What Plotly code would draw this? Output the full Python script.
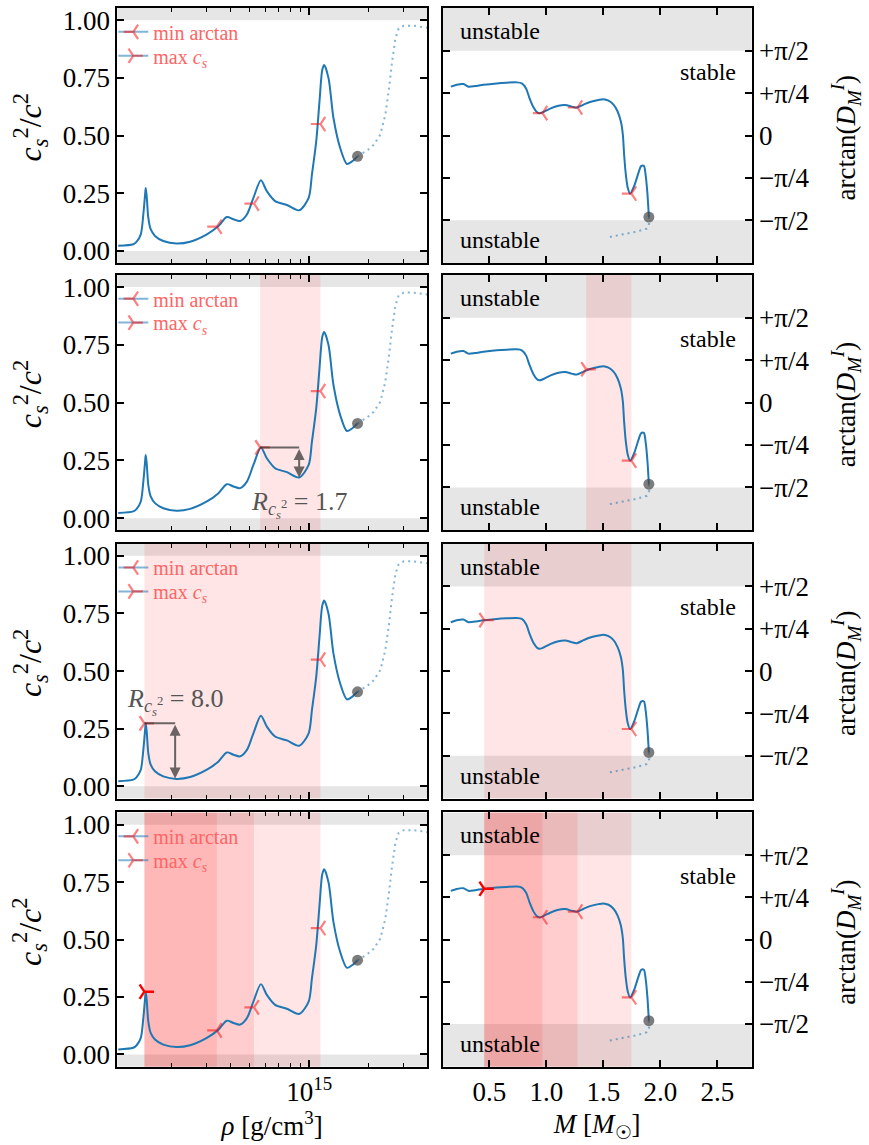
import numpy as np
import plotly.graph_objects as go

W, H = 869, 1145
FONT = "Liberation Serif, DejaVu Serif, serif"

# ---------------- data ----------------
# left panels: squared sound speed vs density
rho_solid = [1.076e14, 1.282e14, 1.334e14, 1.400e14, 1.442e14, 1.472e14, 1.483e14, 1.500e14,
             1.528e14, 1.571e14, 1.652e14, 1.820e14, 2.128e14, 2.489e14, 3.027e14, 3.467e14,
             3.819e14, 4.130e14, 4.467e14, 4.831e14, 5.212e14, 5.689e14, 6.095e14, 6.714e14,
             7.709e14, 8.892e14, 9.931e14, 1.032e15, 1.085e15, 1.127e15, 1.164e15, 1.191e15,
             1.253e15, 1.327e15, 1.435e15, 1.552e15, 1.648e15, 1.758e15]
cs2_solid = [0.022, 0.029, 0.040, 0.072, 0.158, 0.245, 0.273, 0.237, 0.144, 0.094, 0.065, 0.043,
             0.032, 0.040, 0.072, 0.108, 0.147, 0.137, 0.130, 0.158, 0.230, 0.306, 0.259, 0.216,
             0.199, 0.176, 0.230, 0.331, 0.475, 0.647, 0.784, 0.806, 0.748, 0.576, 0.446, 0.377,
             0.388, 0.410]
rho_dotted = [1.758e15, 1.963e15, 2.122e15, 2.293e15, 2.430e15, 2.527e15, 2.630e15, 2.735e15,
              2.840e15, 3.011e15, 3.381e15, 4.009e15]
cs2_dotted = [0.410, 0.435, 0.460, 0.504, 0.590, 0.691, 0.820, 0.921, 0.964, 0.976, 0.976, 0.967]

# right panels: arctan(D_M^I) vs mass
M_solid = [0.161, 0.213, 0.272, 0.316, 0.374, 0.447, 0.564, 0.652, 0.740, 0.784, 0.822, 0.851,
           0.886, 0.915, 0.939, 0.974, 1.032, 1.105, 1.164, 1.222, 1.266, 1.325, 1.383, 1.456,
           1.500, 1.544, 1.588, 1.623, 1.652, 1.670, 1.681, 1.696, 1.713, 1.734, 1.769, 1.807,
           1.830, 1.854, 1.871, 1.886, 1.898]
arctan_solid = [0.906, 0.942, 0.955, 0.906, 0.918, 0.942, 0.967, 0.979, 0.986, 0.967, 0.869,
                0.696, 0.524, 0.437, 0.412, 0.437, 0.499, 0.554, 0.567, 0.536, 0.518, 0.573,
                0.622, 0.659, 0.672, 0.647, 0.573, 0.450, 0.265, 0.019, -0.351, -0.721, -0.967,
                -1.078, -0.936, -0.690, -0.567, -0.561, -0.752, -1.090, -1.510]
M_dotted = [1.898, 1.901, 1.880, 1.792, 1.675, 1.529]
arctan_dotted = [-1.510, -1.632, -1.725, -1.780, -1.829, -1.891]

# candidate points
maxcs_rho = [1.46e14, 5.64e14]
maxcs_cs2 = [0.273, 0.306]
maxcs_M = [0.454, 1.348]
maxcs_arctan = [0.945, 0.617]

minarc_rho = [3.40e14, 5.25e14, 1.14e15]
minarc_cs2 = [0.105, 0.205, 0.550]
minarc_M = [0.965, 1.272, 1.745]
minarc_arctan = [0.415, 0.520, -1.075]

# local minima used for the ratio R
ratio_min_rho = [8.89e14, 2.09e14]
ratio_min_cs2 = [0.176, 0.034]

# what each row shows
row_max = [None, 1, 0, 0]
row_min = [[0, 1, 2], [2], [2], [0, 1, 2]]
row_ratio = [None, 0, 1, None]   # index into ratio_min arrays

rho_minor = [2e14, 3e14, 4e14, 5e14, 6e14, 7e14, 8e14, 9e14, 2e15, 3e15]
rho_major = [1e15]
M_ticks = [0.5, 1.0, 1.5, 2.0, 2.5]
arc_ticks = [-np.pi / 2, -np.pi / 4, 0, np.pi / 4, np.pi / 2]
arc_ticktext = ["\u2212\u03c0/2", "\u2212\u03c0/4", "0", "+\u03c0/4", "+\u03c0/2"]
cs_ticks = [0, 0.25, 0.5, 0.75, 1.0]

# ---------------- styling / layout ----------------
BLUE = "#1f77b4"
BLUE_LIGHT = "rgba(31,119,180,0.55)"
MARK = "rgba(255,0,0,0.5)"
SPAN = "rgba(255,0,0,0.10)"
GRAY = "rgba(128,128,128,0.20)"
ARROW = "rgba(50,50,50,0.72)"

XL = [117.3 / W, 427.0 / W]
XR = [442.7 / W, 751.7 / W]
ROWS_PX = [(6, 262.3), (274, 530.7), (544, 800), (814, 1069.3)]
YL_RANGE = [-0.053, 1.053]
YR_RANGE = [-2.365, 2.365]
XL_RANGE = [14.027, 15.597]
XR_RANGE = [0.09, 2.8]

fig = go.Figure()
layout = {}
shapes = []
annotations = []

tickfont = dict(family=FONT, size=27, color="black")
common = dict(showline=True, linecolor="black", linewidth=2, mirror="ticks", ticks="inside",
              ticklen=7, tickwidth=1.5, tickcolor="black", showgrid=False, zeroline=False,
              tickfont=tickfont)


def ax_name(n, a):
    return a if n == 1 else f"{a}{n}"


def legend_entry(name, symbol, lname, xl, yl):
    fig.add_trace(go.Scatter(x=[None], y=[None], mode="lines+markers", name=name,
                             line=dict(color=BLUE_LIGHT, width=2),
                             marker=dict(symbol=symbol, size=12, color=MARK,
                                         line=dict(color=MARK, width=2.2)),
                             legend=lname, xaxis=xl, yaxis=yl))


for r in range(4):
    top, bot = ROWS_PX[r]
    ydom = [1 - bot / H, 1 - top / H]
    nl, nr = 2 * r + 1, 2 * r + 2
    xl, yl, xr, yr = ax_name(nl, "x"), ax_name(nl, "y"), ax_name(nr, "x"), ax_name(nr, "y")
    last = r == 3

    layout[ax_name(nl, "xaxis")] = dict(
        common, type="log", range=XL_RANGE, domain=XL, anchor=yl,
        tickmode="array", tickvals=rho_major, ticktext=["10<sup>15</sup>"], showticklabels=last,
        minor=dict(tickmode="array", tickvals=rho_minor, ticks="inside", ticklen=4, tickwidth=1.2,
                   tickcolor="black", showgrid=False),
        title=dict(text="<i>\u03c1</i> [g/cm<sup>3</sup>]" if last else "",
                   font=dict(family=FONT, size=27), standoff=8))
    layout[ax_name(nl, "yaxis")] = dict(
        common, range=YL_RANGE, domain=ydom, anchor=xl, tickmode="array", tickvals=cs_ticks,
        tickformat=".2f")
    layout[ax_name(nr, "xaxis")] = dict(
        common, range=XR_RANGE, domain=XR, anchor=yr, tickmode="array", tickvals=M_ticks,
        tickformat=".1f", showticklabels=last,
        title=dict(text="<i>M</i> [<i>M</i><sub>\u2609</sub>]" if last else "",
                   font=dict(family=FONT, size=27), standoff=8))
    layout[ax_name(nr, "yaxis")] = dict(
        common, range=YR_RANGE, domain=ydom, anchor=xr, side="right", tickmode="array",
        tickvals=arc_ticks, ticktext=arc_ticktext)

    # y-axis titles
    annotations += [
        dict(x=30 / W, y=1 - (top + 120) / H, xref="paper", yref="paper", showarrow=False,
             textangle=-90, xanchor="center", yanchor="middle",
             text="<i>c</i><sub><i>s</i></sub><sup>2</sup>/<i>c</i><sup>2</sup>",
             font=dict(family=FONT, size=32, color="black")),
        dict(x=846 / W, y=1 - (top + 131) / H, xref="paper", yref="paper", showarrow=False,
             textangle=-90, xanchor="center", yanchor="middle",
             text="arctan(<i>D</i><sub><i>M</i></sub><sup><i>I</i></sup>)",
             font=dict(family=FONT, size=27, color="black")),
    ]

    # gray unstable / unphysical bands
    shapes += [
        dict(type="rect", xref=f"{xl} domain", yref=yl, x0=0, x1=1, y0=1.0, y1=YL_RANGE[1],
             fillcolor=GRAY, line_width=0, layer="below"),
        dict(type="rect", xref=f"{xl} domain", yref=yl, x0=0, x1=1, y0=YL_RANGE[0], y1=0.0,
             fillcolor=GRAY, line_width=0, layer="below"),
        dict(type="rect", xref=f"{xr} domain", yref=yr, x0=0, x1=1, y0=np.pi / 2, y1=YR_RANGE[1],
             fillcolor=GRAY, line_width=0, layer="below"),
        dict(type="rect", xref=f"{xr} domain", yref=yr, x0=0, x1=1, y0=YR_RANGE[0], y1=-np.pi / 2,
             fillcolor=GRAY, line_width=0, layer="below"),
    ]

    # pink spans between max c_s and min arctan
    if row_max[r] is not None:
        i = row_max[r]
        for j in row_min[r]:
            a, b = maxcs_rho[i], minarc_rho[j]
            fig.add_trace(go.Scatter(x=[a, a, b, b, a], y=[-1, 2, 2, -1, -1], fill="toself",
                                     fillcolor=SPAN, line=dict(width=0), mode="lines",
                                     hoverinfo="skip", showlegend=False, xaxis=xl, yaxis=yl))
            a, b = maxcs_M[i], minarc_M[j]
            fig.add_trace(go.Scatter(x=[a, a, b, b, a], y=[-3, 3, 3, -3, -3], fill="toself",
                                     fillcolor=SPAN, line=dict(width=0), mode="lines",
                                     hoverinfo="skip", showlegend=False, xaxis=xr, yaxis=yr))

    # curves
    fig.add_trace(go.Scatter(x=rho_dotted, y=cs2_dotted, mode="lines",
                             line=dict(color=BLUE_LIGHT, width=2, dash="2px,4px"),
                             showlegend=False, xaxis=xl, yaxis=yl))
    fig.add_trace(go.Scatter(x=rho_solid, y=cs2_solid, mode="lines",
                             line=dict(color=BLUE, width=2, shape="spline", smoothing=0.8),
                             showlegend=False, xaxis=xl, yaxis=yl))
    fig.add_trace(go.Scatter(x=M_dotted, y=arctan_dotted, mode="lines",
                             line=dict(color=BLUE_LIGHT, width=2, dash="2px,4px"),
                             showlegend=False, xaxis=xr, yaxis=yr))
    fig.add_trace(go.Scatter(x=M_solid, y=arctan_solid, mode="lines",
                             line=dict(color=BLUE, width=2, shape="spline", smoothing=0.8),
                             showlegend=False, xaxis=xr, yaxis=yr))

    # end points
    fig.add_trace(go.Scatter(x=[rho_solid[-1]], y=[cs2_solid[-1]], mode="markers",
                             marker=dict(size=11, color="rgba(70,70,70,0.7)"),
                             showlegend=False, xaxis=xl, yaxis=yl))
    fig.add_trace(go.Scatter(x=[M_solid[-1]], y=[arctan_solid[-1]], mode="markers",
                             marker=dict(size=11, color="rgba(70,70,70,0.7)"),
                             showlegend=False, xaxis=xr, yaxis=yr))

    # min arctan markers
    js = row_min[r]
    mk = dict(symbol="y-left", size=12, color=MARK, line=dict(color=MARK, width=2.2))
    fig.add_trace(go.Scatter(x=[minarc_rho[j] for j in js], y=[minarc_cs2[j] for j in js],
                             mode="markers", marker=mk, showlegend=False, xaxis=xl, yaxis=yl))
    fig.add_trace(go.Scatter(x=[minarc_M[j] for j in js], y=[minarc_arctan[j] for j in js],
                             mode="markers", marker=mk, showlegend=False, xaxis=xr, yaxis=yr))
    # max c_s markers
    if row_max[r] is not None:
        i = row_max[r]
        col = "red" if last else MARK
        mk2 = dict(symbol="y-right", size=12, color=col, line=dict(color=col, width=2.4))
        fig.add_trace(go.Scatter(x=[maxcs_rho[i]], y=[maxcs_cs2[i]], mode="markers", marker=mk2,
                                 showlegend=False, xaxis=xl, yaxis=yl))
        fig.add_trace(go.Scatter(x=[maxcs_M[i]], y=[maxcs_arctan[i]], mode="markers", marker=mk2,
                                 showlegend=False, xaxis=xr, yaxis=yr))

    # ratio construction
    if row_ratio[r] is not None:
        i = row_max[r]
        k = row_ratio[r]
        pr, pv = maxcs_rho[i], maxcs_cs2[i]
        mr, mv = ratio_min_rho[k], ratio_min_cs2[k]
        fig.add_trace(go.Scatter(x=[pr, mr], y=[pv, pv], mode="lines",
                                 line=dict(color=ARROW, width=2), showlegend=False,
                                 xaxis=xl, yaxis=yl))
        annotations.append(dict(x=np.log10(mr), y=mv, ax=np.log10(mr), ay=pv, xref=xl, yref=yl,
                                axref=xl, ayref=yl, text="", showarrow=True,
                                arrowside="end+start", arrowhead=2, arrowsize=1.1,
                                arrowwidth=2, arrowcolor=ARROW))
        R = pv / mv
        below = r == 1
        annotations.append(dict(
            x=np.log10(mr), y=mv if below else pv, xref=xl, yref=yl, showarrow=False,
            text=f"<i>R</i><sub><i>c</i><sub><i>s</i></sub><sup>2</sup></sub> = {R:.1f}",
            font=dict(family=FONT, size=26, color="#555555"),
            xanchor="center", yanchor="middle", yshift=-27 if below else 22))

    # stable / unstable labels
    annotations += [
        dict(x=0.05, y=0.91, xref=f"{xr} domain", yref=f"{yr} domain", text="unstable",
             showarrow=False, xanchor="left", yanchor="middle",
             font=dict(family=FONT, size=24, color="black")),
        dict(x=0.05, y=0.09, xref=f"{xr} domain", yref=f"{yr} domain", text="unstable",
             showarrow=False, xanchor="left", yanchor="middle",
             font=dict(family=FONT, size=24, color="black")),
        dict(x=0.955, y=0.75, xref=f"{xr} domain", yref=f"{yr} domain", text="stable",
             showarrow=False, xanchor="right", yanchor="middle",
             font=dict(family=FONT, size=24, color="black")),
    ]

    # legend: one legend box per entry so the two lines sit close together
    for e, (name, sym, dy) in enumerate([("min arctan", "y-left", 24),
                                         ("max <i>c<sub>s</sub></i>", "y-right", 48)]):
        idx = 2 * r + e + 1
        lname = "legend" if idx == 1 else f"legend{idx}"
        legend_entry(name, sym, lname, xl, yl)
        layout[lname] = dict(x=XL[0] - 4 / W, y=1 - (top + dy) / H, xanchor="left",
                             yanchor="middle", bgcolor="rgba(0,0,0,0)", borderwidth=0,
                             itemwidth=30, tracegroupgap=0,
                             font=dict(family=FONT, size=20, color="#ff6464"))

fig.update_layout(width=W, height=H, margin=dict(l=0, r=0, t=0, b=0),
                  paper_bgcolor="white", plot_bgcolor="white", shapes=shapes,
                  annotations=annotations, font=dict(family=FONT, color="black"), **layout)
fig.write_html("out.html")
